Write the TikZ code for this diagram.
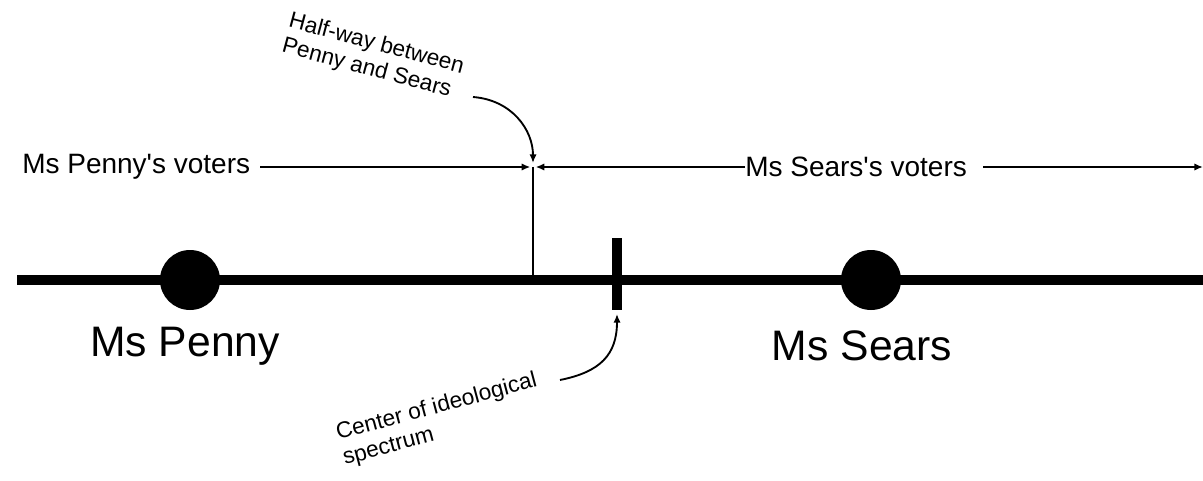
\documentclass[tikz,border=0pt]{standalone}
\usepackage{fontspec}
\setmainfont{Liberation Sans}
\usetikzlibrary{arrows.meta}
\begin{document}
\begin{tikzpicture}[x=0.75pt,y=-0.75pt,
  thinline/.style={line width=1.4pt},
  tip/.style={-{Latex[length=6.5pt,width=5.5pt]}},
  dot/.style={circle,fill=black,inner sep=0pt,minimum size=45pt},
  bigtext/.style={font=\fontsize{32}{36}\selectfont},
  votetext/.style={font=\fontsize{21}{24}\selectfont,inner sep=0pt},
  notetext/.style={font=\fontsize{17}{19.5}\selectfont,align=left,inner sep=0pt}]
\useasboundingbox (0,0) rectangle (1203,481);
% main axis
\coordinate (axL) at (17,280);
\coordinate (axR) at (1210,280);
\draw[line width=7.5pt] (axL) -- (axR);
% candidates
\node[dot] (penny) at (190,280) {};
\node[dot] (sears) at (871,280) {};
\node[bigtext] (pennylab) at (185,346) {Ms Penny};
\node[bigtext] (searslab) at (862,346) {Ms Sears};
% center tick
\coordinate (ctop) at (617,238);
\coordinate (cbot) at (617,310);
\draw[line width=7.5pt] (ctop) -- (cbot);
% half-way line
\coordinate (mid) at (533,167);
\coordinate (midbase) at (533,280);
\draw[thinline] (mid) -- (midbase);
% voters
\node[votetext,anchor=west] (pv) at (22,167) {Ms Penny\textquotesingle s voters};
\node[votetext,anchor=west] (sv) at (745,167) {Ms Sears\textquotesingle s voters};
\coordinate (rend) at (1203,167);
\draw[thinline,tip] ([xshift=7.5pt]pv.east) -- ([xshift=-2pt]mid);
\draw[thinline,tip] (sv.west) -- ([xshift=2pt]mid);
\draw[thinline,tip] ([xshift=12pt]sv.east) -- (rend);
% annotations
\node[notetext,rotate=-15] (hw) at (373,57) {Half-way between\\Penny and Sears};
\coordinate (hwstart) at (473,97);
\draw[thinline,tip] (hwstart) .. controls (512,100) and (533,130) .. ([yshift=3pt]mid);
\node[notetext,rotate=15] (ce) at (440,420) {Center of ideological\\spectrum};
\coordinate (cestart) at (560,380);
\draw[thinline,tip] (cestart) .. controls (600,372) and (617,355) .. ([yshift=-3pt]cbot);
\end{tikzpicture}
\end{document}
